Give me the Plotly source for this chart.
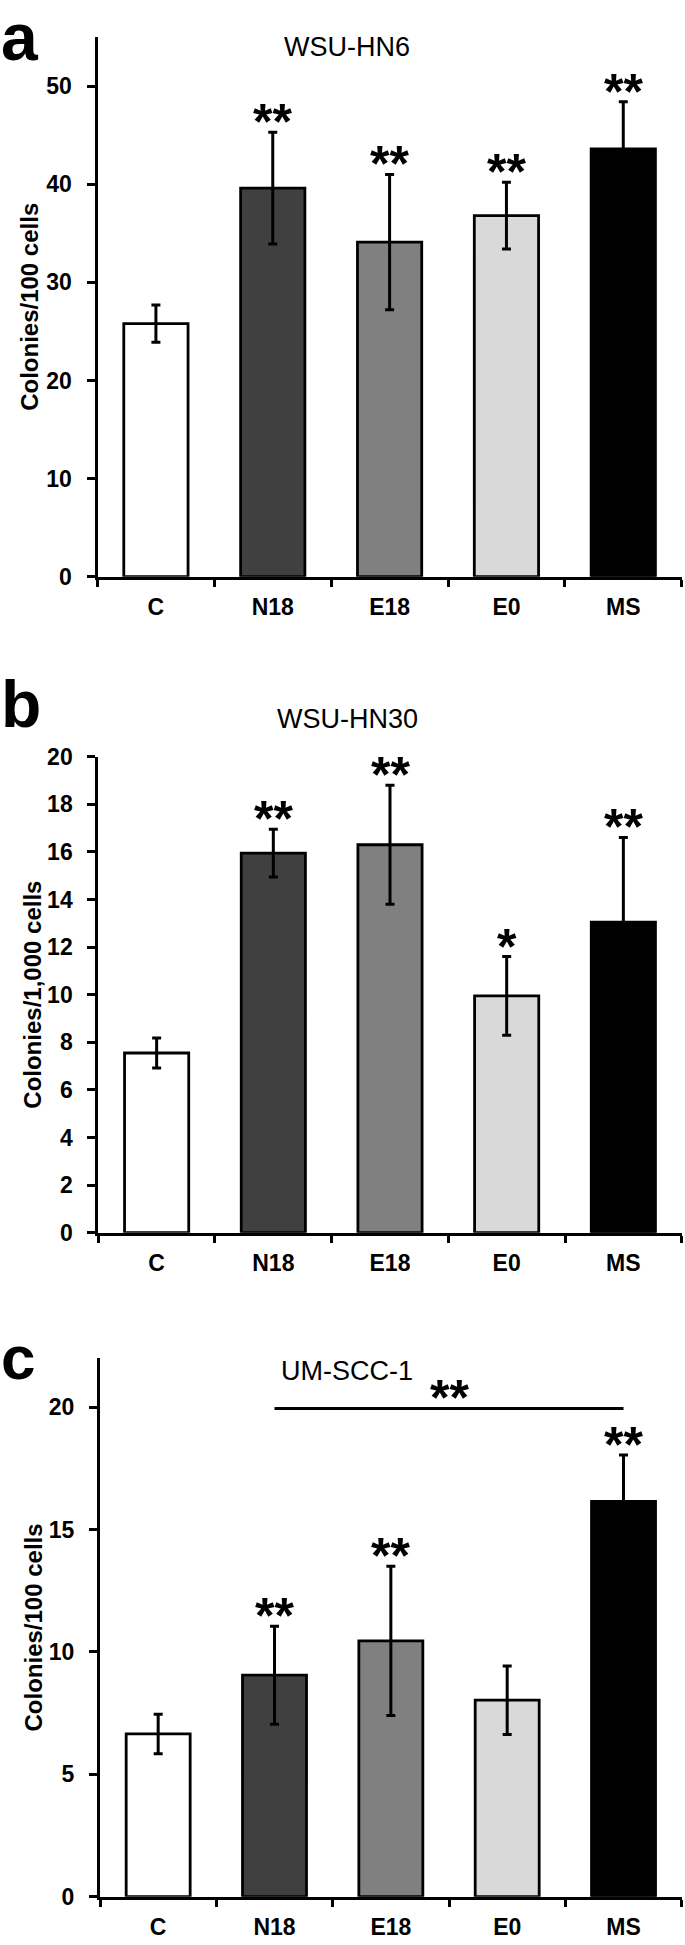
import plotly.graph_objects as go

# ---------------- data ----------------
categories = ["C", "N18", "E18", "E0", "MS"]
bar_colors = ["#ffffff", "#404040", "#808080", "#d9d9d9", "#000000"]

# panel a: WSU-HN6
a_title = "WSU-HN6"
a_ylabel = "Colonies/100 cells"
a_vals = [25.8, 39.6, 34.1, 36.8, 43.6]
a_err = [1.9, 5.7, 6.9, 3.4, 4.8]
a_stars = ["", "**", "**", "**", "**"]

# panel b: WSU-HN30
b_title = "WSU-HN30"
b_ylabel = "Colonies/1,000 cells"
b_vals = [7.55, 15.95, 16.3, 9.95, 13.05]
b_err = [0.63, 1.0, 2.5, 1.65, 3.56]
b_stars = ["", "**", "**", "*", "**"]

# panel c: UM-SCC-1
c_title = "UM-SCC-1"
c_ylabel = "Colonies/100 cells"
c_vals = [6.65, 9.05, 10.45, 8.03, 16.15]
c_err = [0.81, 2.0, 3.05, 1.4, 1.9]
c_stars = ["", "**", "**", "", "**"]
c_bracket = ("N18", "MS", 19.95, "**")

# ---------------- layout geometry (pixels) ----------------
W, H = 685, 1945
FONT = "Liberation Sans, Arial, sans-serif"
STAR_SHIFT = -20
STAR_SIZE = 50

panels = [
    dict(key="", letter="a", letter_size=66, letter_base=76, title=a_title, title_y=47.5,
         ylabel=a_ylabel, ylabel_x=30, vals=a_vals, err=a_err, stars=a_stars,
         x0=97.5, top=37.0, bottom=576.7, yrange=[0, 55], dtick=10),
    dict(key="2", letter="b", letter_size=66, letter_base=743, title=b_title, title_y=719,
         ylabel=b_ylabel, ylabel_x=33, vals=b_vals, err=b_err, stars=b_stars,
         x0=98.3, top=756.7, bottom=1232.7, yrange=[0, 20], dtick=2),
    dict(key="3", letter="c", letter_size=62, letter_base=1394, title=c_title, title_y=1371,
         ylabel=c_ylabel, ylabel_x=33, vals=c_vals, err=c_err, stars=c_stars,
         x0=100.0, top=1358.3, bottom=1896.7, yrange=[0, 22], dtick=5),
]
X1 = 681.7

fig = go.Figure()
annotations = []
shapes = []

for p in panels:
    k = p["key"]
    xa, ya = "x" + k, "y" + k
    fig.add_trace(go.Bar(
        x=categories, y=p["vals"], xaxis=xa, yaxis=ya, width=0.55,
        marker=dict(color=bar_colors, line=dict(color="black", width=2.8)),
        error_y=dict(type="data", array=p["err"], visible=True, color="black",
                     thickness=3, width=4.5),
        showlegend=False, hoverinfo="skip",
    ))
    axis_common = dict(showline=True, linecolor="black", linewidth=3,
                       showgrid=False, zeroline=False, ticks="outside",
                       tickcolor="black", tickwidth=3, automargin=False,
                       tickfont=dict(family=FONT, size=23, color="black", weight="bold"))
    fig.update_layout(**{
        "xaxis" + k: dict(axis_common, domain=[p["x0"] / W, X1 / W], anchor=ya,
                          type="category", range=[-0.5, 4.5], tickson="boundaries",
                          ticklen=7, ticklabelstandoff=8, fixedrange=True),
        "yaxis" + k: dict(axis_common, domain=[1 - p["bottom"] / H, 1 - p["top"] / H],
                          anchor=xa, range=p["yrange"], dtick=p["dtick"], tick0=0,
                          ticklen=8, ticklabelstandoff=10, fixedrange=True),
    })
    # stars above error bars
    for cat, v, e, s in zip(categories, p["vals"], p["err"], p["stars"]):
        if s:
            annotations.append(dict(
                x=cat, y=v + e, xref=xa, yref=ya, text=s, showarrow=False,
                yanchor="bottom", yshift=STAR_SHIFT,
                font=dict(family=FONT, size=STAR_SIZE, color="black", weight="bold")))
    # panel letter
    annotations.append(dict(
        x=-0.002, y=1 - p["letter_base"] / H, xref="paper", yref="paper",
        text=p["letter"], showarrow=False, xanchor="left", yanchor="bottom",
        font=dict(family=FONT, size=p["letter_size"], color="black", weight="bold")))
    # panel title
    annotations.append(dict(
        x=347 / W, y=1 - p["title_y"] / H, xref="paper", yref="paper",
        text=p["title"], showarrow=False, xanchor="center", yanchor="middle",
        font=dict(family=FONT, size=27, color="black")))
    # y-axis title
    annotations.append(dict(
        x=p["ylabel_x"] / W, y=1 - (p["top"] + p["bottom"]) / 2 / H,
        xref="paper", yref="paper", text=p["ylabel"], showarrow=False,
        textangle=-90, xanchor="center", yanchor="middle",
        font=dict(family=FONT, size=24, color="black", weight="bold")))

# significance bracket in panel c
b_from, b_to, b_y, b_txt = c_bracket
i0, i1 = categories.index(b_from), categories.index(b_to)
shapes.append(dict(type="line", xref="x3", yref="y3", x0=i0, x1=i1, y0=b_y, y1=b_y,
                   line=dict(color="black", width=3)))
annotations.append(dict(
    x=(i0 + i1) / 2, y=b_y, xref="x3", yref="y3", text=b_txt, showarrow=False,
    yanchor="bottom", yshift=STAR_SHIFT,
    font=dict(family=FONT, size=STAR_SIZE, color="black", weight="bold")))

fig.update_layout(
    width=W, height=H, margin=dict(l=0, r=0, t=0, b=0, pad=0, autoexpand=False),
    paper_bgcolor="white", plot_bgcolor="white",
    annotations=annotations, shapes=shapes, bargap=0.45,
    font=dict(family=FONT, color="black"),
)

fig.write_html(
    "out.html",
    config={"displayModeBar": False},
    post_script="document.body.style.margin='0';document.body.style.padding='0';",
)
